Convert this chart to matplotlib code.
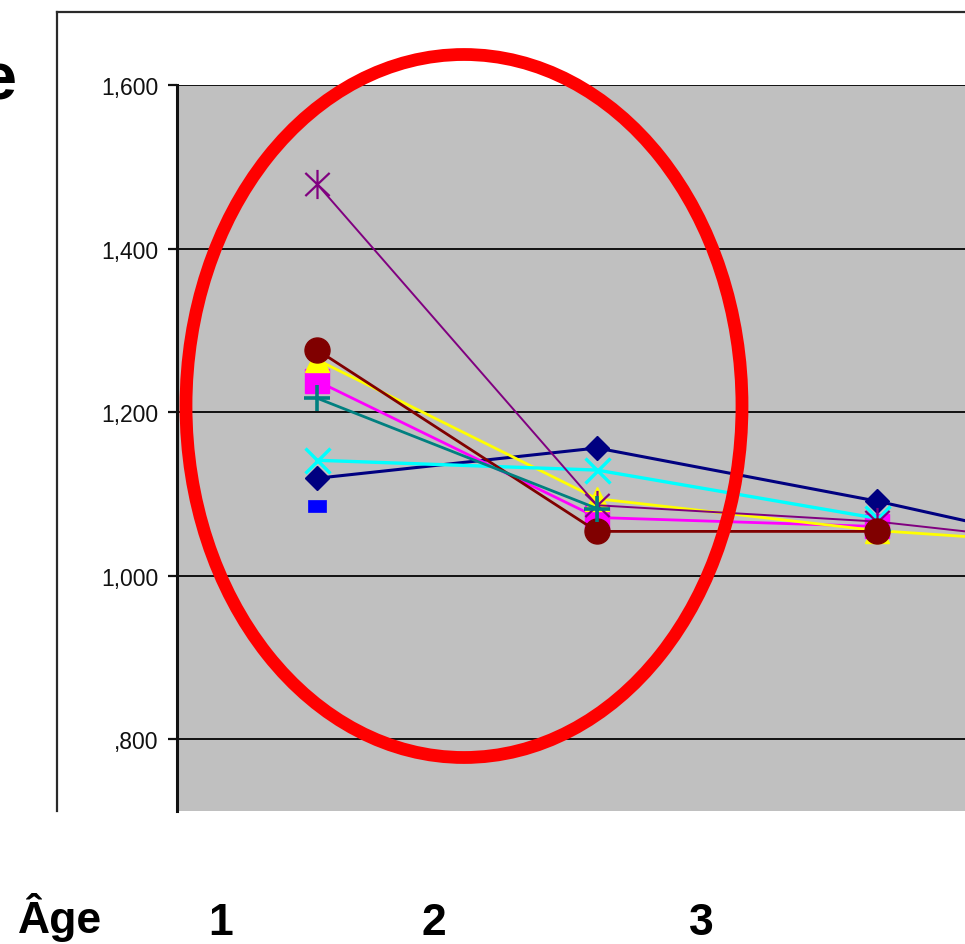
import numpy as np
import matplotlib
matplotlib.use("Agg")
import matplotlib.pyplot as plt
from matplotlib.patches import Ellipse
from matplotlib.lines import Line2D
from matplotlib.path import Path

plt.rcParams['font.family'] = ['Liberation Sans', 'DejaVu Sans']

# Age categories (the fourth one runs past the right edge of the view)
categories = ["1", "2", "3", "4"]

# Series values per age category
navy_diamond = [1.119, 1.156, 1.091, 1.015]
magenta_square = [1.238, 1.071, 1.060, np.nan]
yellow_triangle = [1.264, 1.094, 1.055, 1.032]
cyan_cross = [1.141, 1.129, 1.070, np.nan]
purple_star = [1.479, 1.086, 1.066, 1.028]
maroon_circle = [1.276, 1.054, 1.054, np.nan]
teal_plus = [1.217, 1.082, np.nan, np.nan]
blue_dash = [1.085, np.nan, np.nan, np.nan]

y_ticks = [1.6, 1.4, 1.2, 1.0, 0.8]
y_tick_labels = ["1,600", "1,400", "1,200", "1,000", ",800"]

W, H = 965, 945
fig = plt.figure(figsize=(W / 100, H / 100), dpi=100)
fig.patch.set_facecolor("white")

# plot area: left edge at 177 px, one category every 280 px
ax = fig.add_axes([177 / W, 1 - 812 / H, 1120 / W, (812 - 86) / H])
ax.set_facecolor("#C0C0C0")
ax.set_xlim(0, 4)
ax.set_ylim(0.712, 1.600)

# asterisk marker: an X with a vertical bar
star_path = Path(
    [(-1, -0.95), (1, 0.95), (-1, 0.95), (1, -0.95), (0, -1.2), (0, 1.2)],
    [Path.MOVETO, Path.LINETO, Path.MOVETO, Path.LINETO, Path.MOVETO, Path.LINETO],
)
dash_path = Path(
    [(-1, -0.62), (1, -0.62), (1, 0.62), (-1, 0.62), (-1, -0.62)],
    [Path.MOVETO, Path.LINETO, Path.LINETO, Path.LINETO, Path.CLOSEPOLY],
)

xpos = np.arange(len(categories)) + 0.5

series = [
    (navy_diamond, "#000080", "D", 12.5, 1.0, 2.2),
    (magenta_square, "#FF00FF", "s", 17, 1.0, 2.0),
    (yellow_triangle, "#FFFF00", "^", 17, 1.0, 2.0),
    (cyan_cross, "#00FFFF", "x", 18, 2.4, 2.4),
    (purple_star, "#800080", star_path, 21, 1.6, 1.4),
    (maroon_circle, "#800000", "o", 18, 1.0, 2.0),
    (teal_plus, "#008080", "+", 19, 2.6, 2.0),
    (blue_dash, "#0000FF", dash_path, 13, 0.5, 2.0),
]

for i, (vals, col, mk, ms, mew, lw) in enumerate(series):
    ax.plot(xpos, vals, color=col, lw=lw, marker=mk, markersize=ms,
            markerfacecolor=col, markeredgecolor=col, markeredgewidth=mew,
            zorder=3 + i, solid_joinstyle="round")

ax.set_yticks(y_ticks)
ax.set_yticklabels(y_tick_labels, fontsize=16.5, color="#111111")
ax.set_xticks([])
ax.grid(axis="y", color="#111111", lw=1.4, zorder=1)
ax.set_axisbelow(True)
for side in ("top", "right", "bottom"):
    ax.spines[side].set_visible(False)
ax.spines["left"].set_color("#111111")
ax.spines["left"].set_linewidth(2.2)
ax.tick_params(axis="y", length=6.5, width=1.6, color="#111111", pad=7)

# outer chart frame (top and left edges)
frame_kw = dict(color="#2a2a2a", lw=1.6, transform=fig.transFigure)
fig.add_artist(Line2D([57 / W, 57 / W], [1 - 812 / H, 1 - 13 / H], **frame_kw))
fig.add_artist(Line2D([57 / W, 1.0], [1 - 13 / H, 1 - 13 / H], **frame_kw))

# red highlight ellipse around the first two ages
fig.add_artist(Ellipse((464 / W, 1 - 407 / H), 556 / W, 703 / H,
                       transform=fig.transFigure, fill=False,
                       edgecolor="#FF0000", lw=9.2, zorder=20))

# trailing letter of the slide title
fig.text(16 / W, 1 - 100 / H, "e", fontsize=48, fontweight="bold",
         ha="right", va="baseline", color="black")

# age row underneath the chart
fig.text(18 / W, 1 - 933 / H, "Âge", fontsize=32, fontweight="bold",
         ha="left", va="baseline", color="black")
for lab, xc in zip(categories[:3], [221, 434, 701]):
    fig.text(xc / W, 1 - 935 / H, lab, fontsize=32, fontweight="bold",
             ha="center", va="baseline", color="black")

fig.savefig("out.png", dpi=100)
